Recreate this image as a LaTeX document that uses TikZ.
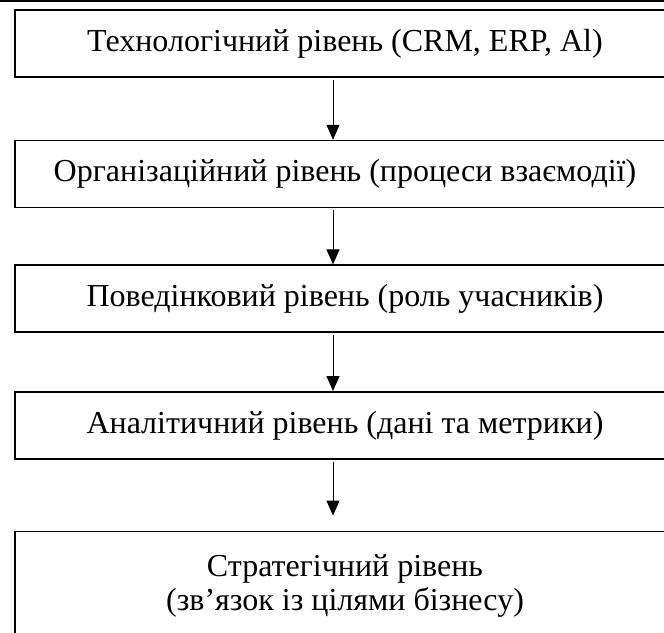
\documentclass[tikz,border=0pt]{standalone}
\usepackage{fontspec}
\setmainfont{Liberation Serif}
\usetikzlibrary{positioning, arrows.meta}

\begin{document}
\begin{tikzpicture}[
  x=1pt, y=1pt,
  level/.style={draw, line width=1.6pt, minimum width=660pt, minimum height=67pt,
    inner sep=0pt, align=center, font=\fontsize{32}{34}\selectfont},
  arr/.style={-{Triangle[length=15pt, width=13pt]}, line width=1pt, shorten <=2pt},
]
  \useasboundingbox (0,0) rectangle (664,-632);
  \clip (0,0) rectangle (664,-632);
  \draw[line width=1.6pt] (0,-0.8) -- (664,-0.8);

  \node[level] (tech) at (345,-43.5) {Технологічний рівень (CRM, ERP, Al)};
  \node[level, below=62pt of tech] (org) {Організаційний рівень (процеси взаємодії)};
  \node[level, below=56pt of org] (behav) {Поведінковий рівень (роль учасників)};
  \node[level, below=58pt of behav] (analyt) {Аналітичний рівень (дані та метрики)};
  \node[level, below=71pt of analyt, inner ysep=23pt, text depth=60pt] (strat)
    {Стратегічний рівень\\(зв’язок із цілями бізнесу)};

  \draw[arr] ([xshift=-12pt]tech.south) -- ([xshift=-12pt]org.north);
  \draw[arr] ([xshift=-12pt]org.south) -- ([xshift=-12pt]behav.north);
  \draw[arr] ([xshift=-12pt]behav.south) -- ([xshift=-12pt]analyt.north);
  \draw[arr] ([xshift=-12pt]analyt.south) -- ([xshift=-12pt,yshift=15pt]strat.north);
\end{tikzpicture}
\end{document}
